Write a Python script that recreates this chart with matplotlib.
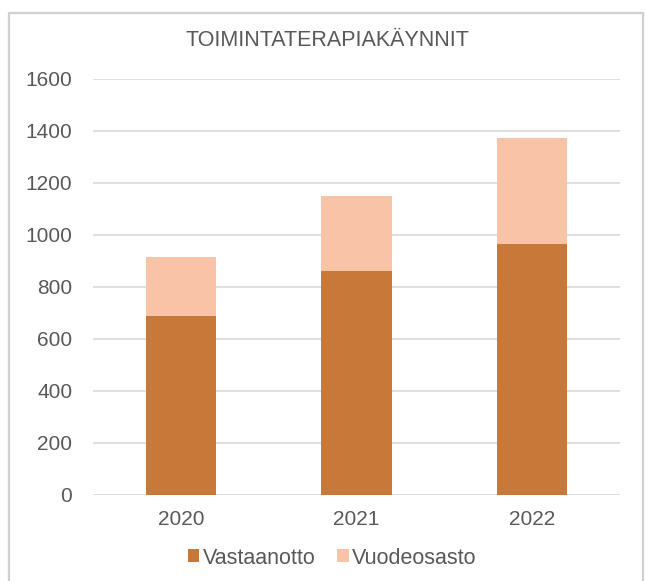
import numpy as np
import matplotlib.pyplot as plt
from matplotlib.lines import Line2D

# toimintaterapiakäynnit vuosittain
years = ["2020", "2021", "2022"]
vastaanotto = [688, 860, 965]
vuodeosasto = [227, 290, 410]

c_vast = "#C8793A"
c_vuode = "#F8C3A6"
c_text = "#595959"
c_grid = "#D9D9D9"

plt.rcParams['font.family'] = ['Liberation Sans', 'DejaVu Sans']

fig = plt.figure(figsize=(6.45, 5.81), dpi=100)
fig.patch.set_facecolor("white")
# kaavion reunus (vasen, ylä, oikea)
bx0, bx1, by1 = 8.5 / 645, 643 / 645, 1 - 12.5 / 581
fig.lines.append(Line2D([bx0, bx0, bx1, bx1], [0, by1, by1, 0], transform=fig.transFigure,
                        color="#D0D0D0", linewidth=1.6))

ax = fig.add_axes([93 / 645, 1 - 495 / 581, 527 / 645, 416 / 581])
x = np.arange(len(years))
ax.bar(x, vastaanotto, width=0.4, color=c_vast, label="Vastaanotto", zorder=3)
ax.bar(x, vuodeosasto, width=0.4, bottom=vastaanotto, color=c_vuode, label="Vuodeosasto", zorder=3)

ax.set_xlim(-0.5, 2.5)
ax.set_ylim(0, 1600)
ax.set_yticks(np.arange(0, 1601, 200))
ax.set_xticks(x)
ax.set_xticklabels(years)
ax.grid(axis="y", color=c_grid, linewidth=1.2, zorder=0)
for s in ax.spines.values():
    s.set_visible(False)
ax.tick_params(axis="both", length=0, colors=c_text, labelsize=15)
ax.tick_params(axis="y", pad=15)
ax.tick_params(axis="x", pad=11)

fig.text(327 / 645, 1 - 40 / 581, "TOIMINTATERAPIAKÄYNNIT", ha="center", va="center",
         fontsize=15.5, color=c_text)

fig.legend(loc="center", bbox_to_anchor=(332 / 645, 1 - 558 / 581), ncol=2, frameon=False,
           fontsize=15.5, labelcolor=c_text, handlelength=0.55, handleheight=0.55,
           handletextpad=0.15, columnspacing=1.0)

fig.savefig("out.png", dpi=100)
